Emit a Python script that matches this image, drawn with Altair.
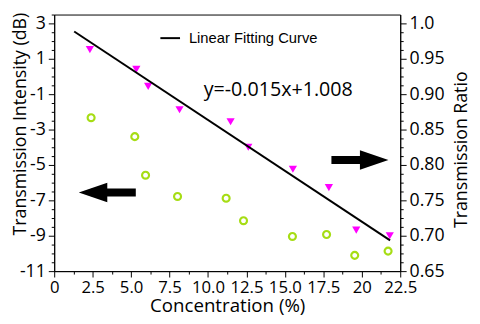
import altair as alt
import pandas as pd

# ---- data ----
ratio_conc = [2.32, 5.34, 6.11, 8.15, 11.47, 12.62, 15.52, 17.86, 19.64, 21.82]
ratio_vals = [0.963, 0.935, 0.911, 0.878, 0.861, 0.825, 0.794, 0.768, 0.708, 0.700]

db_conc = [2.40, 5.24, 5.94, 8.02, 11.18, 12.31, 15.49, 17.71, 19.54, 21.71]
db_vals = [-2.33, -3.40, -5.58, -6.78, -6.88, -8.15, -9.04, -8.93, -10.11, -9.87]

fit_conc = [1.30, 21.84]
fit_vals = [0.9885, 0.6934]
fit_name = "Linear Fitting Curve"
equation = "y=-0.015x+1.008"

x_ticks = [i * 1.25 for i in range(19)]
left_ticks = [-11 + 0.5 * i for i in range(30)]
right_ticks = [0.65 + 0.0125 * i for i in range(30)]

FONT = "Open Sans"

df_ratio = pd.DataFrame({"c": ratio_conc, "r": ratio_vals})
df_db = pd.DataFrame({"c": db_conc, "d": db_vals})
df_fit = pd.DataFrame({"c": fit_conc, "r": fit_vals, "s": [fit_name] * 2})
one = pd.DataFrame({"a": [0]})

def minor_size(test, major=6, minor=3):
    return {"condition": {"test": test, "value": minor}, "value": major}

x_major = "abs(datum.value/2.5 - round(datum.value/2.5)) < 0.001"
x_axis = alt.Axis(
    values=x_ticks,
    labelExpr=f"({x_major}) ? (datum.value == 0 ? '0' : datum.value == 20 ? '20' : format(datum.value, '.1f')) : ''",
    tickSize=minor_size(f"!({x_major})"),
    title="Concentration (%)",
    titleFont=FONT, titleFontSize=19, titleFontWeight="normal", titleColor="black",
    titlePadding=1,
    labelFont=FONT, labelFontSize=17, labelColor="black", labelPadding=3,
    labelOverlap=False, labelFlush=False,
    domainColor="black", tickColor="black", grid=False,
)
x_enc = alt.X("c:Q", scale=alt.Scale(domain=[0, 22.5], nice=False, zero=False), axis=x_axis)

l_major = "abs((datum.value+11)/2 - round((datum.value+11)/2)) < 0.001"
left_axis = alt.Axis(
    values=left_ticks, orient="left",
    labelExpr=f"({l_major}) ? ('' + datum.value) : ''",
    tickSize=minor_size(f"!({l_major})"),
    title="Transmission Intensity (dB)",
    titleFont=FONT, titleFontSize=18, titleFontWeight="normal", titleColor="black",
    titleX=-34, titleY=111, titleAngle=270, titleAlign="center", titleBaseline="middle",
    labelFont=FONT, labelFontSize=18, labelColor="black", labelPadding=3,
    labelOverlap=False, labelFlush=False,
    domainColor="black", tickColor="black", grid=False,
)

r_major = "abs((datum.value-0.65)/0.05 - round((datum.value-0.65)/0.05)) < 0.001"
right_axis = alt.Axis(
    values=right_ticks, orient="right",
    labelExpr=f"({r_major}) ? (abs(datum.value-1) < 0.001 ? '1.0' : format(datum.value, '.2f')) : ''",
    tickSize=minor_size(f"!({r_major})"),
    title="Transmission Ratio",
    titleFont=FONT, titleFontSize=18, titleFontWeight="normal", titleColor="black",
    titleX=62, titleY=137, titleAngle=270, titleAlign="center", titleBaseline="middle",
    labelFont=FONT, labelFontSize=18, labelColor="black", labelPadding=3,
    labelOverlap=False, labelFlush=False,
    domainColor="black", tickColor="black", grid=False,
)

left_scale = alt.Scale(domain=[-11, 3.5], nice=False, zero=False)
right_scale = alt.Scale(domain=[0.65, 1.0125], nice=False, zero=False)

circles = alt.Chart(df_db).mark_point(
    shape="circle", filled=False, size=50, strokeWidth=2.2, color="#A6DD14", opacity=1
).encode(x=x_enc, y=alt.Y("d:Q", scale=left_scale, axis=left_axis))

triangles = alt.Chart(df_ratio).mark_point(
    shape="triangle-down", filled=True, size=70, color="#FF00FF", opacity=1
).encode(x=x_enc, y=alt.Y("r:Q", scale=right_scale, axis=right_axis))

fit_line = alt.Chart(df_fit).mark_line(strokeWidth=2).encode(
    x=x_enc,
    y=alt.Y("r:Q", scale=right_scale, axis=right_axis),
    color=alt.Color("s:N", scale=alt.Scale(domain=[fit_name], range=["black"]),
                    legend=alt.Legend(orient="none", legendX=107, legendY=13, title=None,
                                      symbolType="stroke", symbolSize=400, symbolStrokeWidth=2,
                                      labelFont="Liberation Sans", labelFontSize=15,
                                      labelColor="black", labelOffset=8, padding=0)),
)

right_layer = alt.layer(triangles, fit_line)

eq_text = alt.Chart(one).mark_text(
    text=equation, font=FONT, fontSize=20, align="left", baseline="middle", color="black"
).encode(x=alt.value(152), y=alt.value(77))

R_ARROW = "M-1,-0.14 L0,-0.14 L0,-0.34 L1,0 L0,0.34 L0,0.14 L-1,0.14 Z"
L_ARROW = "M1,-0.14 L0,-0.14 L0,-0.34 L-1,0 L0,0.34 L0,0.14 L1,0.14 Z"

arrow_r = alt.Chart(one).mark_point(
    shape=R_ARROW, size=3364, filled=True, color="black", opacity=1, strokeWidth=0
).encode(x=alt.value(311), y=alt.value(148))
arrow_l = alt.Chart(one).mark_point(
    shape=L_ARROW, size=3364, filled=True, color="black", opacity=1, strokeWidth=0
).encode(x=alt.value(54), y=alt.value(181))

chart = alt.layer(circles, right_layer, eq_text, arrow_r, arrow_l).resolve_scale(
    y="independent"
).properties(
    width=352, height=261,
    autosize=alt.AutoSizeParams(type="none"),
    padding={"left": 47, "top": 4, "right": 73, "bottom": 43},
).configure_view(stroke="black", strokeWidth=1)

chart.save("out.html", embed_options={"renderer": "svg", "actions": False})
